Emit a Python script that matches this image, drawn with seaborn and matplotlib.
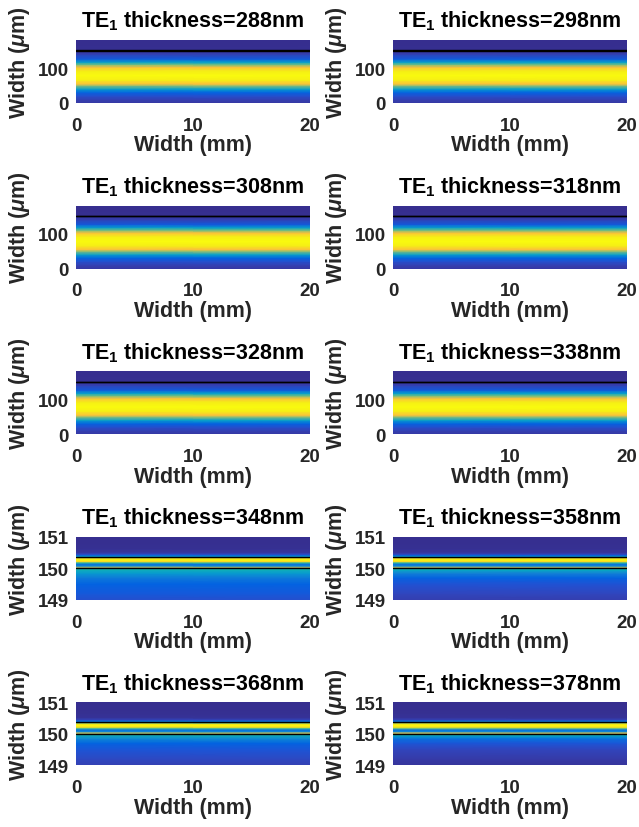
import numpy as np
import matplotlib
matplotlib.use("Agg")
import matplotlib.pyplot as plt
import seaborn as sns
from matplotlib.colors import LinearSegmentedColormap

# ---------------- data ----------------
thickness_nm = [288, 298, 308, 318, 328, 338, 348, 358, 368, 378]
prop_mm = [0, 20]                      # propagation extent (x)
x_ticks = [0, 10, 20]
wide_ylim = [0, 180]
wide_yticks = [0, 100]
thin_ylim = [149, 151]
thin_yticks = [149, 150, 151]
core_edge_um = 150.0

# wide view (288-338 nm): normalized intensity across width (um)
wide_y = [0, 10, 20, 30, 40, 50, 55, 65, 78, 92, 102, 110, 117, 126, 140, 150, 150.3, 165, 180]
wide_I = [0.10, 0.15, 0.24, 0.34, 0.50, 0.70, 0.85, 0.96, 1.00, 0.96, 0.85, 0.66, 0.50, 0.30,
          0.15, 0.07, 0.04, 0.03, 0.03]

# zoomed view (348-378 nm): normalized intensity across width (um)
thin_y = [149.0, 149.2, 149.5, 149.7, 149.85, 149.95, 150.0, 150.03, 150.08, 150.13, 150.18,
          150.22, 150.27, 150.32, 150.36, 150.41, 150.46, 150.52, 150.65, 151.0]
thin_I = {
    348: [0.24, 0.29, 0.35, 0.42, 0.49, 0.55, 0.60, 0.75, 0.45, 0.40, 0.60, 0.90, 1.00, 0.92,
          0.55, 0.40, 0.18, 0.07, 0.04, 0.03],
    358: [0.14, 0.19, 0.26, 0.34, 0.44, 0.53, 0.60, 0.75, 0.45, 0.40, 0.60, 0.90, 1.00, 0.92,
          0.55, 0.38, 0.16, 0.06, 0.04, 0.03],
    368: [0.15, 0.20, 0.27, 0.35, 0.45, 0.54, 0.60, 0.76, 0.45, 0.40, 0.62, 0.92, 1.00, 0.93,
          0.60, 0.38, 0.16, 0.06, 0.04, 0.03],
    378: [0.07, 0.11, 0.18, 0.27, 0.40, 0.52, 0.60, 0.78, 0.45, 0.40, 0.65, 0.93, 1.00, 0.94,
          0.65, 0.38, 0.15, 0.06, 0.04, 0.03],
}

# ---------------- style ----------------
parula_pts = [
    (0.2081, 0.1663, 0.5292), (0.2116, 0.1898, 0.5777), (0.2123, 0.2138, 0.6270),
    (0.2081, 0.2386, 0.6771), (0.1959, 0.2645, 0.7279), (0.1707, 0.2919, 0.7792),
    (0.1253, 0.3242, 0.8303), (0.0591, 0.3598, 0.8683), (0.0117, 0.3875, 0.8820),
    (0.0165, 0.4266, 0.8786), (0.0779, 0.5040, 0.8384), (0.0343, 0.5966, 0.8199),
    (0.0228, 0.6535, 0.7768), (0.0843, 0.6928, 0.7062), (0.2178, 0.7250, 0.6193),
    (0.3953, 0.7459, 0.5244), (0.5709, 0.7485, 0.4494), (0.7184, 0.7411, 0.3905),
    (0.8507, 0.7299, 0.3360), (0.9739, 0.7314, 0.2666), (0.9955, 0.7861, 0.1967),
    (0.9697, 0.8481, 0.1475), (0.9598, 0.9218, 0.0948), (0.9763, 0.9831, 0.0538),
]
parula = LinearSegmentedColormap.from_list("parula", parula_pts)

sns.set_theme(style="white")
plt.rcParams["font.family"] = ["Liberation Sans", "DejaVu Sans"]
plt.rcParams["font.weight"] = "bold"
plt.rcParams["mathtext.fontset"] = "custom"
plt.rcParams["mathtext.rm"] = "Liberation Sans:bold"
plt.rcParams["mathtext.bf"] = "Liberation Sans:bold"
plt.rcParams["mathtext.it"] = "Liberation Sans:italic:bold"
txt = "#262626"

W, H = 639, 828
fig = plt.figure(figsize=(W / 100, H / 100), dpi=100)

col_left = [76, 393]
ax_w, ax_h = 234, 63
row_top0, row_step = 41, 165.6

for i, t in enumerate(thickness_nm):
    r, c = divmod(i, 2)
    top = row_top0 + r * row_step
    ax = fig.add_axes([col_left[c] / W, 1 - (top + ax_h) / H, ax_w / W, ax_h / H])
    if t in thin_I:
        ys, vals, ylim, yt = thin_y, thin_I[t], thin_ylim, thin_yticks
    else:
        ys, vals, ylim, yt = wide_y, wide_I, wide_ylim, wide_yticks
    X, Y = np.meshgrid(prop_mm, ys)
    C = np.repeat(np.asarray(vals)[:, None], len(prop_mm), axis=1)
    ax.pcolormesh(X, Y, C, shading="gouraud", cmap=parula, vmin=0, vmax=1)
    for b in (core_edge_um, core_edge_um + t / 1000.0):
        sns.lineplot(x=prop_mm, y=[b, b], ax=ax, color="black", lw=1.0)
    ax.set_xlim(prop_mm)
    ax.set_ylim(ylim)
    ax.set_xticks(x_ticks)
    ax.set_yticks(yt)
    ax.tick_params(length=0, labelsize=13.5, colors=txt)
    ax.tick_params(axis="x", pad=10)
    ax.tick_params(axis="y", pad=5)
    for lab in ax.get_xticklabels() + ax.get_yticklabels():
        lab.set_fontweight("bold")
    ax.set_xlabel("Width (mm)", fontsize=15.5, fontweight="bold", color=txt)
    ax.set_ylabel("Width ($\\mu$m)", fontsize=15.5, fontweight="bold", color=txt)
    ax.xaxis.set_label_coords(0.5, -0.5)
    ax.yaxis.set_label_coords(-0.19, 0.66)
    ax.set_title(f"TE$_\\mathbf{{1}}$ thickness={t}nm", fontsize=15.5, fontweight="bold",
                 color="black", pad=9.5)
    for s in ax.spines.values():
        s.set_visible(False)

fig.savefig("out.png", dpi=100)
